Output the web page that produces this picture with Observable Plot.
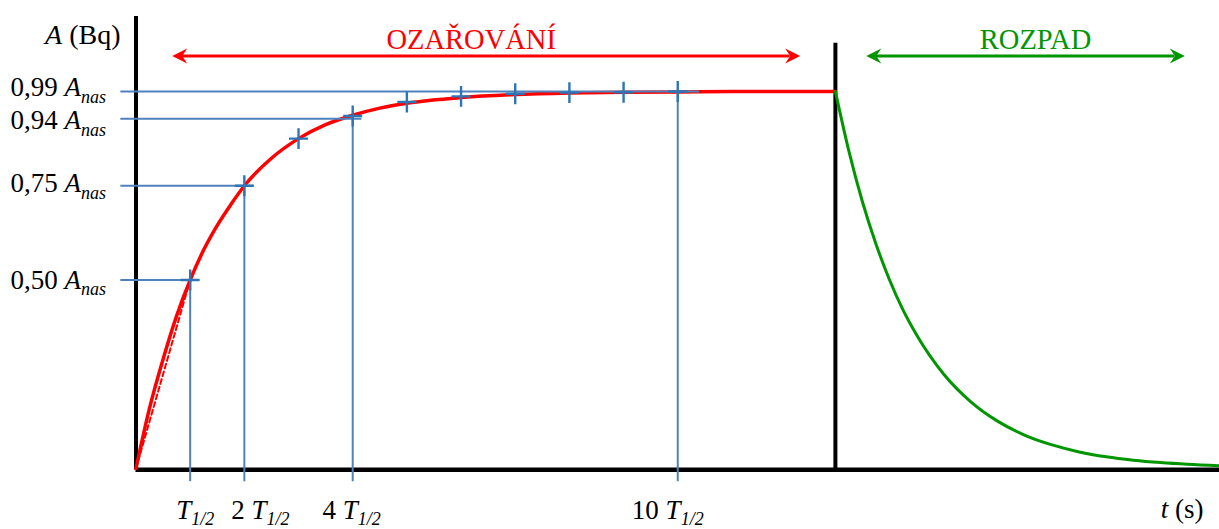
<!DOCTYPE html>
<html>
<head>
<meta charset="utf-8">
<script src="https://cdn.jsdelivr.net/npm/d3@7"></script>
<script src="https://cdn.jsdelivr.net/npm/@observablehq/plot@0.6"></script>
<style>
  html, body { margin: 0; padding: 0; background: #fff; }
  #chart svg { display: block; }
</style>
</head>
<body>
<div id="chart"></div>
<script>
// ---- data (time in units of T1/2, activity as fraction of A_nas) ----
const growthT = [0, 0.25, 0.5, 0.75, 1, 1.25, 1.5, 1.75, 2, 2.5, 3, 3.5, 4, 4.5, 5, 6, 7, 8, 9, 10, 11, 12, 12.91];
const growthA = [0, 0.16, 0.29, 0.405, 0.50, 0.58, 0.645, 0.70, 0.75, 0.823, 0.875, 0.912, 0.937, 0.956, 0.969, 0.984, 0.992, 0.996, 0.998, 0.999, 1, 1, 1];

const decayT = [12.91, 13.16, 13.41, 13.66, 13.91, 14.16, 14.41, 14.91, 15.41, 15.91, 16.41, 16.91, 17.41, 17.91, 18.41, 18.91, 19.41, 20];
const decayA = [1, 0.841, 0.707, 0.595, 0.50, 0.42, 0.354, 0.25, 0.177, 0.125, 0.088, 0.0625, 0.044, 0.031, 0.022, 0.0156, 0.011, 0.0073];

const dashT = [0, 1];
const dashA = [0, 0.5];

const markerN = [1, 2, 3, 4, 5, 6, 7, 8, 9, 10];
const markerA = [0.50, 0.75, 0.875, 0.935, 0.972, 0.987, 0.994, 0.997, 0.998, 1.0];

const levelN = [1, 2, 4, 10];
const levelA = [0.50, 0.75, 0.928, 1.0];
const levelLabels = ["0,50", "0,75", "0,94", "0,99"];
const xTickLabels = ["", "2 ", "4 ", "10 "];

const irradiationEnd = 12.91;
const phaseNames = ["OZAŘOVÁNÍ", "ROZPAD"];
const phaseStart = [0.668, 13.48];
const phaseEnd = [12.26, 19.36];
const phaseColors = ["#ff0000", "#009600"];

// ---- styles ----
const FONT = "'Liberation Serif', 'Times New Roman', serif";
const BLUE_LINE = "#4f81bd";
const BLUE_MARK = "#2e75b6";
const RED = "#ff0000";
const GREEN = "#009600";

const growth = growthT.map((t, i) => ({t, a: growthA[i]}));
const decay = decayT.map((t, i) => ({t, a: decayA[i]}));
const dash = dashT.map((t, i) => ({t, a: dashA[i]}));
const markers = markerN.map((n, i) => ({n, a: markerA[i]}));
const levels = levelN.map((n, i) => ({n, a: levelA[i], label: levelLabels[i], xl: xTickLabels[i]}));
const phases = phaseNames.map((name, i) => ({name, s: phaseStart[i], e: phaseEnd[i], c: phaseColors[i]}));

const plusSym = {draw(ctx, size) {
  const r = Math.sqrt(size / Math.PI);
  ctx.moveTo(-r, 0); ctx.lineTo(r, 0);
  ctx.moveTo(0, -r * 1.1); ctx.lineTo(0, r * 1.1);
}};
const headRight = {draw(ctx) {
  ctx.moveTo(0, 0); ctx.lineTo(-15, -7.5); ctx.lineTo(-10, 0); ctx.lineTo(-15, 7.5); ctx.closePath();
}};
const headLeft = {draw(ctx) {
  ctx.moveTo(0, 0); ctx.lineTo(15, -7.5); ctx.lineTo(10, 0); ctx.lineTo(15, 7.5); ctx.closePath();
}};

const marks = [];

// axes (black)
marks.push(Plot.ruleX([0], {y1: -0.004, y2: 1.199, stroke: "black", strokeWidth: 4}));
marks.push(Plot.ruleY([-0.003], {x1: 0, x2: 20, stroke: "black", strokeWidth: 4.5}));
marks.push(Plot.ruleX([irradiationEnd], {y1: 0, y2: 1.128, stroke: "black", strokeWidth: 4}));

// curves
marks.push(Plot.line(dash, {x: "t", y: "a", stroke: RED, strokeWidth: 2, strokeDasharray: "5,3"}));
marks.push(Plot.line(growth, {x: "t", y: "a", stroke: RED, strokeWidth: 3.5, curve: "monotone-x"}));
marks.push(Plot.line(decay, {x: "t", y: "a", stroke: GREEN, strokeWidth: 3, curve: "monotone-x"}));

// helper lines
marks.push(Plot.ruleY(levels, {y: "a", x1: -0.28, x2: d => d.n + (d.n === 10 ? 0.4 : 0.17), stroke: BLUE_LINE, strokeWidth: 2}));
marks.push(Plot.ruleX(levels, {x: "n", y1: "a", y2: -0.035, stroke: BLUE_LINE, strokeWidth: 2}));

// markers
marks.push(Plot.dot(markers, {x: "n", y: "a", symbol: plusSym, r: 9.5, stroke: BLUE_MARK, strokeWidth: 2.4, fill: "none"}));

// phase arrows + labels
const phaseTextNudge = [-15, 10];
phases.forEach((p, i) => {
  marks.push(Plot.ruleY([1.094], {x1: p.s, x2: p.e, stroke: p.c, strokeWidth: 3, insetLeft: 10, insetRight: 10}));
  marks.push(Plot.dot([p.s], {x: d => d, y: () => 1.094, symbol: headLeft, fill: p.c, stroke: "none"}));
  marks.push(Plot.dot([p.e], {x: d => d, y: () => 1.094, symbol: headRight, fill: p.c, stroke: "none"}));
  marks.push(Plot.text([p.name], {x: () => (p.s + p.e) / 2, y: () => 1.114, text: d => d, fill: p.c, dx: phaseTextNudge[i],
    fontSize: 28.5, fontFamily: FONT, lineAnchor: "bottom", textAnchor: "middle"}));
});

// y level labels
levels.forEach((d, i) => {
  marks.push(Plot.text([d], {x: () => 0, y: "a", text: v => `${v.label} *A*_nas_`, dx: -125.5, dy: i === 3 ? -4 : (i === 2 ? 2 : (i === 1 ? -2 : 0)),
    textAnchor: "start", lineAnchor: "middle", fontSize: 27, fontFamily: FONT, fill: "black"}));
});

// x tick labels
const xNudge = [5, 16, -1, -10];
const xDrop = [50, 50, 50, 50];
levels.forEach((d, i) => {
  marks.push(Plot.text([d], {x: "n", y: () => 0, text: v => `${v.xl}*T*_1/2_`, dx: xNudge[i], dy: xDrop[i],
    textAnchor: "middle", lineAnchor: "bottom", fontSize: 27, fontFamily: FONT, fill: "black"}));
});

// axis titles
marks.push(Plot.text(["*A* (Bq)"], {x: () => 0, y: () => 1.125, text: d => d, dx: -15.5, textAnchor: "end", lineAnchor: "bottom",
  fontSize: 28, fontFamily: FONT, fill: "black"}));
marks.push(Plot.text(["*t* (s)"], {x: () => 20, y: () => 0, text: d => d, dx: -16, dy: 49, textAnchor: "end", lineAnchor: "bottom",
  fontSize: 27, fontFamily: FONT, fill: "black"}));

const svg = Plot.plot({
  width: 1219,
  height: 529,
  marginLeft: 135.5,
  marginRight: 0,
  marginTop: 91,
  marginBottom: 61,
  x: {domain: [0, 20], axis: null},
  y: {domain: [0, 1], axis: null},
  style: {fontFamily: FONT, background: "white", overflow: "visible"},
  marks
});

// turn the light markup (*italic*, _italic subscript_) into real tspans
const root = svg.tagName.toLowerCase() === "svg" ? svg : svg.querySelector("svg");
root.querySelectorAll("text").forEach(el => {
  const s = el.textContent;
  if (!/[*_]/.test(s)) return;
  while (el.firstChild) el.removeChild(el.firstChild);
  const re = /\*([^*]+)\*|_([^_]+)_|([^*_]+)/g;
  let m;
  while ((m = re.exec(s))) {
    const t = document.createElementNS("http://www.w3.org/2000/svg", "tspan");
    if (m[1]) { t.setAttribute("font-style", "italic"); t.textContent = m[1]; }
    else if (m[2]) { t.setAttribute("font-style", "italic"); t.setAttribute("font-size", "18"); t.setAttribute("dy", "6.5"); t.textContent = m[2]; }
    else t.textContent = m[3];
    el.appendChild(t);
  }
});

document.getElementById("chart").appendChild(svg);
</script>
</body>
</html>
